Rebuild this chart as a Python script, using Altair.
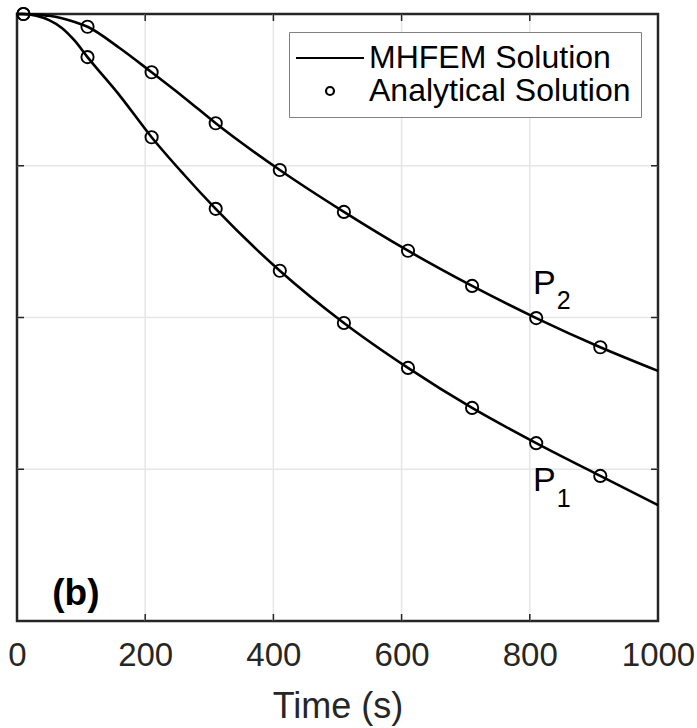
import altair as alt
import pandas as pd

# ---- data ----
marker_times = [10, 110, 210, 310, 410, 510, 610, 710, 810, 910]
p1_analytical = [1.0, 0.929, 0.797, 0.679, 0.577, 0.491, 0.417, 0.351, 0.293, 0.239]
p2_analytical = [1.0, 0.979, 0.904, 0.820, 0.743, 0.674, 0.610, 0.552, 0.499, 0.451]

line_times = [0, 10, 30, 50, 70, 90, 110, 160, 210, 260, 310, 410, 510, 610, 710, 810, 910, 1000]
p1_mhfem = [1.0, 1.0, 0.997, 0.990, 0.977, 0.956, 0.929, 0.866, 0.797, 0.736, 0.679, 0.577,
            0.491, 0.417, 0.351, 0.293, 0.239, 0.191]
p2_mhfem = [1.0, 1.0, 0.999, 0.997, 0.993, 0.987, 0.979, 0.944, 0.904, 0.863, 0.820, 0.743,
            0.674, 0.610, 0.552, 0.499, 0.451, 0.412]

x_ticks = [0, 200, 400, 600, 800, 1000]
x_inner = [200, 400, 600, 800]
y_inner = [0.25, 0.5, 0.75]

label_main = ["P", "P"]
label_main_t = [805, 805]
label_main_v = [0.5387, 0.2142]
label_sub = ["2", "1"]
label_sub_t = [842, 842]
label_sub_v = [0.514, 0.1878]
panel_label = "(b)"

kinds = ["MHFEM Solution", "Analytical Solution"]

# ---- tables ----
lines = pd.DataFrame(
    [{"t": t, "v": v, "curve": "P1"} for t, v in zip(line_times, p1_mhfem)]
    + [{"t": t, "v": v, "curve": "P2"} for t, v in zip(line_times, p2_mhfem)]
)
points = pd.DataFrame(
    [{"t": t, "v": v, "curve": "P1", "kind": kinds[1]} for t, v in zip(marker_times, p1_analytical)]
    + [{"t": t, "v": v, "curve": "P2", "kind": kinds[1]} for t, v in zip(marker_times, p2_analytical)]
)
xg = pd.DataFrame({"t": x_inner})
yg = pd.DataFrame({"v": y_inner})
mains = pd.DataFrame({"t": label_main_t, "v": label_main_v, "txt": label_main})
subs = pd.DataFrame({"t": label_sub_t, "v": label_sub_v, "txt": label_sub})
panel = pd.DataFrame({"t": [55], "v": [0.0264], "txt": [panel_label]})

W, H = 641, 607
FONT = "Liberation Sans"
GRID = "#e6e6e6"
DARK = "#262626"

xscale = alt.Scale(domain=[0, 1000], nice=False, zero=False)
yscale = alt.Scale(domain=[0, 1], nice=False, zero=False)

X = alt.X("t:Q", scale=xscale,
          axis=alt.Axis(values=x_ticks, format="d", grid=False, ticks=False, domain=False,
                        labelFlush=False, labelFontSize=33, labelColor=DARK, labelFont=FONT,
                        labelPadding=18, title="Time (s)", titleFontSize=36,
                        titleFontWeight="normal", titleColor=DARK, titleFont=FONT,
                        titleY=96, titleBaseline="alphabetic"))
Y = alt.Y("v:Q", scale=yscale, axis=None)

xgrid = alt.Chart(xg).mark_rule(color=GRID, strokeWidth=1.5).encode(x=X)
ygrid = alt.Chart(yg).mark_rule(color=GRID, strokeWidth=1.5).encode(y=Y)

tick_bottom = alt.Chart(xg).mark_rule(color=DARK, strokeWidth=1.5).encode(
    x=X, y=alt.value(H - 7), y2=alt.value(H))
tick_top = alt.Chart(xg).mark_rule(color=DARK, strokeWidth=1.5).encode(
    x=X, y=alt.value(0), y2=alt.value(7))
tick_left = alt.Chart(yg).mark_rule(color=DARK, strokeWidth=1.5).encode(
    y=Y, x=alt.value(0), x2=alt.value(7))
tick_right = alt.Chart(yg).mark_rule(color=DARK, strokeWidth=1.5).encode(
    y=Y, x=alt.value(W - 7), x2=alt.value(W))

line_layer = alt.Chart(lines).mark_line(color="black", strokeWidth=2.6,
                                        interpolate="monotone").encode(
    x=X, y=Y, detail="curve:N")

point_layer = alt.Chart(points).mark_point(filled=False, size=150, strokeWidth=1.9,
                                           color="black", opacity=1).encode(
    x=X, y=Y,
    shape=alt.Shape("kind:N",
                    scale=alt.Scale(domain=kinds, range=["M-8.5,0H8.5", "circle"]),
                    legend=alt.Legend(title=None, orient="none", legendX=272, legendY=18,
                                      fillColor="white", strokeColor="#808080",
                                      padding=10, rowPadding=1,
                                      labelFont=FONT, labelFontSize=32, labelColor="black",
                                      labelLimit=1000,
                                      symbolSize=64, symbolStrokeWidth=2.2,
                                      symbolStrokeColor="black",
                                      symbolOffset=15, labelOffset=23)))

main_text = alt.Chart(mains).mark_text(font=FONT, fontSize=34, color="black",
                                       align="left", baseline="alphabetic").encode(
    x=X, y=Y, text="txt:N")
sub_text = alt.Chart(subs).mark_text(font=FONT, fontSize=25, color="black",
                                     align="left", baseline="alphabetic").encode(
    x=X, y=Y, text="txt:N")
panel_text = alt.Chart(panel).mark_text(font=FONT, fontSize=37, fontWeight="bold",
                                        color="black", align="left",
                                        baseline="alphabetic").encode(
    x=X, y=Y, text="txt:N")

chart = alt.layer(
    xgrid, ygrid, tick_bottom, tick_top, tick_left, tick_right,
    line_layer, point_layer, main_text, sub_text, panel_text
).properties(
    width=W, height=H,
    autosize=alt.AutoSizeParams(type="none"),
    padding={"left": 17, "top": 14, "right": 39, "bottom": 107},
    background="white",
).configure(font=FONT).configure_view(
    stroke=DARK, strokeWidth=2.5
)

chart.save("out.html", embed_options={"renderer": "svg", "actions": False})
